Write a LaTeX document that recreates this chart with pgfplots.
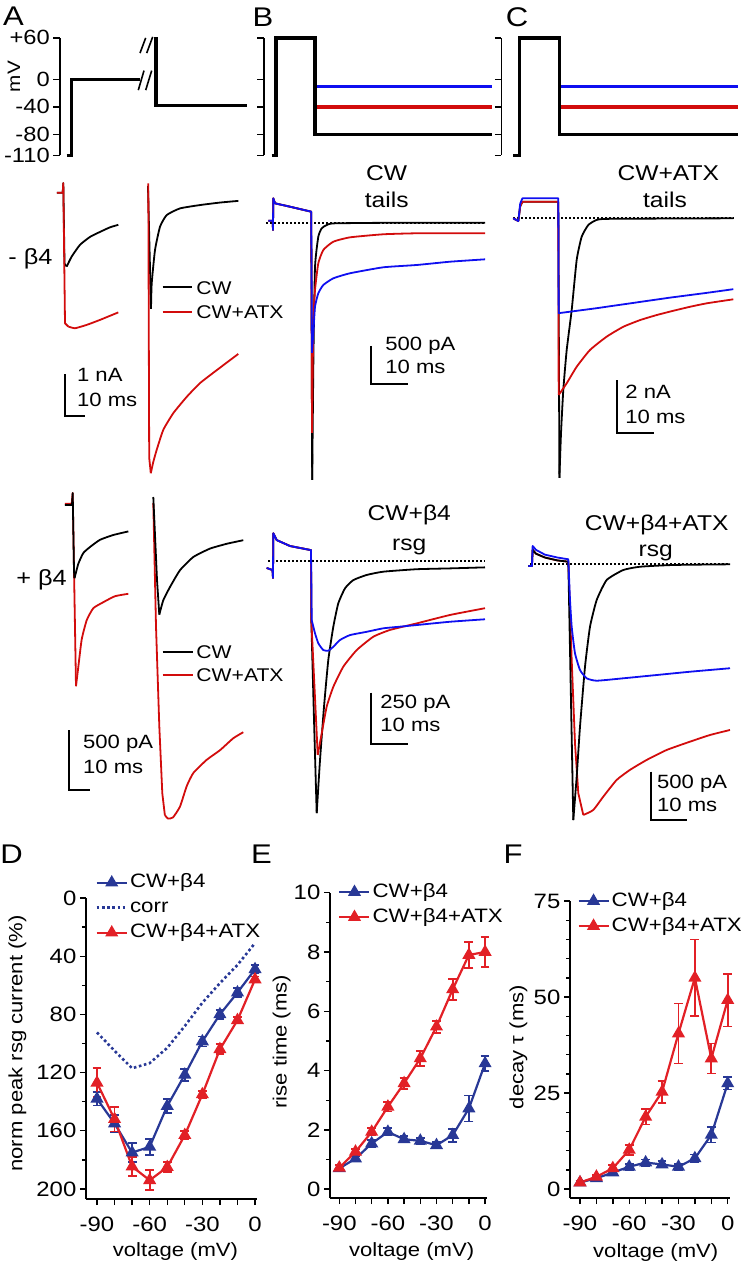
\documentclass[border=0pt]{standalone}
\usepackage{pgfplots}
\pgfplotsset{compat=1.18}
\usepackage{pgfplotstable}
\usepackage{fontspec}
\setmainfont{Liberation Sans}[FakeStretch=1.15]
\definecolor{dfblue}{RGB}{40,56,150}
\definecolor{dfred}{RGB}{226,32,38}
\definecolor{tblue}{RGB}{15,15,240}
\definecolor{tred}{RGB}{210,12,12}
\newcommand\fs[1]{\fontsize{#1}{#1}\selectfont}

\pgfplotstableread{
v m e
-90 138 4.6
-80 155 6
-70 175 6.5
-60 171 5.5
-50 143 4.6
-40 121.5 4.2
-30 98.6 3.4
-20 80 2.9
-10 65 3.2
0 49 2.8
}\Dblue
\pgfplotstableread{
v m e
-90 127 10
-80 152 8.5
-70 184.6 6.5
-60 194 6.9
-50 185 3.4
-40 163 2.9
-30 135 2.6
-20 104 3.4
-10 84 2.3
0 56 2
}\Dred
\pgfplotstableread{
v m
-90 92.4
-80 105
-70 117
-60 113.5
-50 103
-40 88
-30 72
-20 58.5
-10 46
0 31
}\Dcorr
\pgfplotstableread{
v m e
-90 0.70 0.1
-80 1.03 0.1
-70 1.54 0.12
-60 1.93 0.12
-50 1.68 0.1
-40 1.63 0.1
-30 1.48 0.1
-20 1.82 0.22
-10 2.72 0.44
0 4.24 0.25
}\Eblue
\pgfplotstableread{
v m e
-90 0.72 0.1
-80 1.26 0.1
-70 1.93 0.12
-60 2.78 0.16
-50 3.57 0.18
-40 4.41 0.25
-30 5.48 0.2
-20 6.74 0.36
-10 7.9 0.45
0 8.0 0.5
}\Ered
\pgfplotstableread{
v m e
-90 1.7 0.5
-80 2.8 0.5
-70 4.3 0.8
-60 5.8 0.8
-50 6.9 0.8
-40 6.4 0.8
-30 5.8 0.8
-20 8.0 1.0
-10 14.1 2.0
0 27.5 1.6
}\Fblue
\pgfplotstableread{
v m e
-90 1.7 0.5
-80 3.2 0.5
-70 5.4 0.9
-60 10.2 1.3
-50 18.8 2.0
-40 25.3 2.8
-30 40.5 7.8
-20 55 10
-10 34 3.9
0 49.2 6.9
}\Fred

\pgfplotsset{
 prot/.style={anchor=south west, x=0.5pt, y=0.345pt, xmin=0, ymin=-110, ymax=60,
   axis x line=none, axis y line*=left, clip=false, enlargelimits=false,
   ytick={-110,-80,-40,0,60}, tick align=outside, major tick length=3.3pt,
   axis line style={line width=0.6pt}, every tick/.style={black, line width=0.6pt},
   yticklabel style={font=\fs{10.3}, xshift=1.7pt}},
 trace/.style={anchor=south west, hide axis, clip=false, enlargelimits=false},
 tr0/.style={line width=0.9pt, line join=round},
 tr/.style={line width=0.9pt, line join=round, smooth, tension=0.3},
 sbar/.style={black, line width=1pt},
 pw/.style={line width=1.6pt},
 dfe/.style={anchor=south west, scale only axis, axis x line*=bottom, axis y line*=left,
   axis line style={line width=0.7pt}, every tick/.style={black, line width=0.7pt},
   tick align=outside, major tick length=3pt, minor tick length=2pt, clip=false,
   xtick={-90,-80,...,0}, xticklabels={-90,,,-60,,,-30,,,0},
   tick label style={font=\fs{10.4}}, yticklabel style={xshift=1.7pt}, xticklabel style={yshift=-2.5pt},
   xlabel={voltage (mV)}, label style={font=\fs{9.6}},
   xlabel style={anchor=center}, ylabel style={anchor=center},
   legend cell align=left,
   legend style={draw=none, fill=none, anchor=west, font=\fs{9.7}, inner sep=0pt, row sep=1.5pt,
     nodes={inner xsep=1pt, inner ysep=1pt, text height=7pt, text depth=2pt}},
   legend image code/.code={\draw[mark repeat=2,mark phase=2,##1] plot coordinates {(0pt,0pt) (7.5pt,0pt) (15pt,0pt)};}},
 pb/.style={dfblue, line width=1.1pt, mark=triangle*, mark size=2.7pt, mark options={solid, fill=dfblue},
   error bars/.cd, y dir=both, y explicit, error bar style={line width=0.9pt, solid},
   error mark options={rotate=90, dfblue, mark size=2.2pt, line width=0.9pt}},
 pr/.style={dfred, line width=1.1pt, mark=triangle*, mark size=2.7pt, mark options={solid, fill=dfred},
   error bars/.cd, y dir=both, y explicit, error bar style={line width=0.9pt, solid},
   error mark options={rotate=90, dfred, mark size=2.2pt, line width=0.9pt}},
}

\begin{document}
\begin{tikzpicture}
\useasboundingbox (0,0) rectangle (370pt,-632pt);

% ---------------- voltage protocols ----------------
\begin{axis}[prot, at={(30pt,-77.6pt)}, xmax=187, yticklabels={-110,-80,-40,0,+60},
  ylabel={mV}, ylabel style={font=\fs{9}, at={(axis description cs:-0.246,0.67)}, anchor=center}]
\addplot[black, pw] coordinates {(6.7,-110) (11.7,-110) (11.7,0) (80,0)};
\addplot[black, pw] coordinates {(96,61) (96,-38) (186.7,-38)};
\addplot[black, line width=0.8pt] coordinates {(78.3,-15.7) (84,12.6)};
\addplot[black, line width=0.8pt] coordinates {(85.7,-15.7) (91.7,12.6)};
\addplot[black, line width=0.8pt] coordinates {(80,38) (85.7,60)};
\addplot[black, line width=0.8pt] coordinates {(86.7,38) (92.7,61.5)};
\end{axis}

\begin{axis}[prot, at={(132pt,-77.6pt)}, xmax=228, yticklabels={,,,,,}]
\addplot[tblue, pw] coordinates {(51,-10) (228,-10)};
\addplot[tred, pw] coordinates {(51,-40) (228,-40)};
\addplot[black, pw] coordinates {(7.7,-110) (12,-110) (12,60) (51,60) (51,-80) (228,-80)};
\end{axis}

\begin{axis}[prot, at={(250.7pt,-77.6pt)}, xmax=237, yticklabels={,,,,,}]
\addplot[tblue, pw] coordinates {(58.4,-10) (236.3,-10)};
\addplot[tred, pw] coordinates {(58.4,-40) (236.3,-40)};
\addplot[black, pw] coordinates {(12,-110) (18,-110) (18,60) (58.4,60) (58.4,-80) (236.3,-80)};
\end{axis}

% ---------------- A, -beta4, left sweep (nA, ms) ----------------
\begin{axis}[trace, at={(26.65pt,-221.45pt)}, x=1pt, y=20.85pt, xmin=-5, xmax=30, ymin=-6, ymax=1]
\addplot[tr0, black] coordinates {(-3.2,0) (-0.3,0) (0,0.23) (0.6,-1.7) (1.7,-1.77)};
\addplot[tr, black] coordinates {(1.7,-1.77) (4.2,-1.53) (8.35,-1.25) (13.35,-1.06) (18.35,-0.94) (23.35,-0.83) (27.5,-0.77)};
\addplot[tr0, tred] coordinates {(-3.2,0) (-0.3,0) (0,0.23) (0.85,-3.13) (2.5,-3.21)};
\addplot[tr, tred] coordinates {(2.5,-3.21) (5.85,-3.25) (11.7,-3.17) (18.35,-3.05) (27.5,-2.87)};
\addplot[sbar] coordinates {(0.85,-4.35) (0.85,-5.35) (10.85,-5.35)};
\end{axis}

% ---------------- A, -beta4, right sweep ----------------
\begin{axis}[trace, at={(69pt,-260.15pt)}, x=1pt, y=20.85pt, xmin=-5, xmax=50, ymin=-8, ymax=1]
\addplot[tr0, black] coordinates {(-0.5,0) (0,0) (1.5,-2.93)};
\addplot[tr, black] coordinates {(1.5,-2.93) (1.85,-2.32) (3.5,-1.52) (6,-0.96) (9.35,-0.68) (16,-0.52) (26,-0.44) (36,-0.38) (45.15,-0.34)};
\addplot[tr0, tred] coordinates {(0.15,0.08) (0.6,-6.5) (1.4,-6.87)};
\addplot[tr, tred] coordinates {(1.4,-6.87) (2.65,-6.6) (4.35,-6.31) (7.65,-5.83) (12.65,-5.43) (19.35,-5.04) (26,-4.71) (34.35,-4.4) (45.15,-4.01)};
\addplot[black, line width=1pt] coordinates {(7.35,-2.40) (21.85,-2.40)};
\addplot[tred, line width=1pt] coordinates {(7.35,-3.0) (21.85,-3.0)};
\end{axis}

% ---------------- A, +beta4, left sweep ----------------
\begin{axis}[trace, at={(31.1pt,-432.5pt)}, x=1.05pt, y=60pt, xmin=-5, xmax=30, ymin=-3, ymax=0.5]
\addplot[tr0, tred] coordinates {(-3.67,0.01) (-0.48,0.01) (0,0.1) (1.57,-1.51)};
\addplot[tr, tred] coordinates {(1.57,-1.51) (2.67,-1.35) (4.29,-1.12) (6.67,-0.96) (9.81,-0.86) (14.57,-0.81) (20.14,-0.76) (26.48,-0.74)};
\addplot[tr0, black] coordinates {(-3.7,0) (-0.33,0) (0,0.1) (0.62,-0.55) (0.86,-0.61)};
\addplot[tr, black] coordinates {(0.86,-0.61) (2.67,-0.49) (5.05,-0.40) (8.24,-0.35) (13,-0.29) (19.33,-0.25) (26.5,-0.22)};
\addplot[sbar] coordinates {(-1.76,-1.875) (-1.76,-2.375) (8.24,-2.375)};
\end{axis}

% ---------------- A, +beta4, right sweep ----------------
\begin{axis}[trace, at={(71.4pt,-431.5pt)}, x=1.05pt, y=60pt, xmin=-5, xmax=45, ymin=-3, ymax=0.5]
\addplot[tr0, tred] coordinates {(0,0) (1.29,-1.03) (2.86,-1.86) (4.29,-2.42) (5.5,-2.6)};
\addplot[tr, tred] coordinates {(5.5,-2.6) (7,-2.63) (9.38,-2.62) (12.71,-2.53) (15.9,-2.36) (19.05,-2.25) (25.43,-2.14) (31.76,-2.06) (38.1,-1.96) (42.86,-1.91)};
\addplot[tr0, black] coordinates {(0,0.05) (1.76,-0.64) (2.86,-0.93)};
\addplot[tr, black] coordinates {(2.86,-0.93) (4.76,-0.81) (7.95,-0.70) (12.71,-0.56) (19.05,-0.45) (27,-0.38) (34.95,-0.34) (42.86,-0.31)};
\addplot[black, line width=1pt] coordinates {(4.48,-1.24) (18.76,-1.24)};
\addplot[tred, line width=1pt] coordinates {(4.48,-1.43) (18.76,-1.43)};
\end{axis}

% ---------------- B, CW tails (pA) ----------------
\begin{axis}[trace, at={(127.575pt,-264.55pt)}, x=1.885pt, y=0.0383pt, xmin=-15, xmax=50, ymin=-4000, ymax=1000]
\addplot[black, line width=0.9pt, dash pattern=on 1pt off 1pt] coordinates {(-12,0) (46,0)};
\addplot[tr0, black] coordinates {(-11.5,26) (-10.35,26) (-10.27,-95) (-10.19,318) (-9.73,253) (-5.76,209) (-0.13,144) (0.13,-3358)};
\addplot[tr, black] coordinates {(0.13,-3358) (0.48,-1661) (0.88,-574) (1.75,-183) (2.65,-73) (3.98,-30) (6.18,-8) (23.4,0) (46,0)};
\addplot[tr0, tred] coordinates {(-11.5,26) (-10.35,26) (-10.27,-95) (-10.19,318) (-9.73,253) (-5.76,209) (-0.13,144) (0.08,-2744)};
\addplot[tr, tred] coordinates {(0.08,-2744) (0.42,-1313) (0.88,-878) (1.75,-530) (3.08,-356) (5.73,-248) (10.16,-191) (19,-151) (27.85,-138) (36.7,-138) (46,-138)};
\addplot[tr0, tblue] coordinates {(-11.5,26) (-10.35,26) (-10.27,-95) (-10.19,318) (-9.73,253) (-5.76,209) (-0.13,144) (0.08,-1700)};
\addplot[tr, tblue] coordinates {(0.08,-1700) (0.48,-1400) (0.88,-1096) (1.75,-921) (3.08,-813) (5.73,-726) (10.16,-660) (19,-582) (27.85,-552) (36.7,-509) (46,-478)};
\addplot[sbar] coordinates {(15.65,-1609) (15.65,-2109) (25.65,-2109)};
\end{axis}

% ---------------- C, CW+ATX tails (nA) ----------------
\begin{axis}[trace, at={(251.4pt,-269.05pt)}, x=1.85pt, y=13.325pt, xmin=-15, xmax=50, ymin=-12, ymax=2]
\addplot[black, line width=0.9pt, dash pattern=on 1pt off 1pt] coordinates {(-12.2,0) (47.3,0)};
\addplot[tr0, black] coordinates {(-12.2,0) (-10.8,-0.1) (-10.3,0.45) (-9.7,0.62) (0,0.62) (0.3,-9.74)};
\addplot[tr, black] coordinates {(0.3,-9.74) (0.73,-8.07) (1.35,-6.44) (2.27,-4.94) (3.62,-3.44) (4.97,-1.56) (6.32,-0.69) (8.11,-0.25) (10.38,-0.06) (13.97,-0.02) (47.3,0)};
\addplot[tr0, tred] coordinates {(-12.2,0) (-10.8,-0.1) (-10.3,0.45) (-9.7,0.62) (0,0.62) (0.1,-6.63)};
\addplot[tr, tred] coordinates {(0.1,-6.63) (2.27,-6.19) (4.97,-5.57) (8.57,-4.94) (13.08,-4.44) (17.57,-4.07) (22.08,-3.82) (26.59,-3.63) (31.08,-3.47) (35.59,-3.32) (40.11,-3.19) (47.3,-3.04)};
\addplot[tr0, tblue] coordinates {(-12.2,0) (-10.8,-0.1) (-10.3,0.55) (-9.7,0.75) (0,0.75) (0.1,-3.56) (10,-3.38) (20,-3.18) (30,-2.98) (40,-2.8) (47.3,-2.66)};
\addplot[sbar] coordinates {(15.95,-6.07) (15.95,-8.07) (25.95,-8.07)};
\end{axis}

% ---------------- B, CW+b4 rsg (pA) ----------------
\begin{axis}[trace, at={(127.225pt,-434.4pt)}, x=1.885pt, y=0.1026pt, xmin=-15, xmax=50, ymin=-1500, ymax=300]
\addplot[black, line width=0.9pt, dash pattern=on 1pt off 1pt] coordinates {(-11.3,0) (46.15,0)};
\addplot[tr0, black] coordinates {(-11.75,-34) (-10.21,-44) (-10.08,-83) (-10,135) (-9.1,102) (-5.57,73) (-0.27,54) (0,54) (0.08,-288) (0.8,-775) (1.51,-1229)};
\addplot[tr, black] coordinates {(1.51,-1229) (2.39,-970) (3.45,-710) (4.59,-482) (5.92,-320) (7.24,-206) (9.02,-133) (11.22,-93) (14.77,-68) (19.18,-52) (28.04,-40) (36.87,-36) (46.15,-31)};
\addplot[tr0, tred] coordinates {(-11.75,-34) (-10.21,-44) (-10.08,-83) (-10,135) (-9.1,102) (-5.57,73) (-0.27,54) (0,54) (0.08,-288) (1.78,-945)};
\addplot[tr, tred] coordinates {(1.78,-945) (2.84,-840) (4.16,-710) (5.92,-613) (8.57,-515) (12.12,-434) (16.53,-369) (20.95,-336) (28.04,-304) (36.87,-263) (46.15,-230)};
\addplot[tr0, tblue] coordinates {(-11.75,-34) (-10.21,-44) (-10.08,-83) (-10,135) (-9.1,102) (-5.57,73) (-0.27,54) (0,54) (0.19,-288)};
\addplot[tr, tblue] coordinates {(0.19,-288) (1.06,-352) (1.94,-401) (3.26,-434) (4.59,-437) (5.92,-418) (7.69,-385) (10.34,-361) (14.77,-345) (19.18,-328) (23.61,-320) (28.04,-312) (36.87,-296) (46.15,-284)};
\addplot[sbar] coordinates {(15.84,-642) (15.84,-892) (25.84,-892)};
\end{axis}

% ---------------- C, CW+b4+ATX rsg (pA) ----------------
\begin{axis}[trace, at={(257.15pt,-427.05pt)}, x=1.8pt, y=0.0483pt, xmin=-15, xmax=50, ymin=-3000, ymax=500]
\addplot[black, line width=0.9pt, dash pattern=on 1pt off 1pt] coordinates {(-10.6,0) (44.92,0)};
\addplot[tr0, tred] coordinates {(-11.1,-18) (-10.1,-18) (-9.9,150) (-9,110) (-6.5,70) (-3,40) (0,27) (0.94,-990) (1.86,-1853) (2.78,-2370) (4.17,-2595)};
\addplot[tr, tred] coordinates {(4.17,-2595) (6.94,-2543) (9.72,-2405) (13.44,-2232) (17.14,-2128) (21.78,-2025) (27.33,-1922) (33.81,-1836) (39.36,-1767) (44.92,-1715)};
\addplot[tr0, black] coordinates {(-11.1,-18) (-10.1,-18) (-9.9,150) (-9,110) (-6.5,70) (-3,40) (0,27) (1.39,-2647)};
\addplot[tr, black] coordinates {(1.39,-2647) (2.33,-2198) (3.25,-1681) (4.64,-1060) (6.03,-646) (7.89,-369) (10.67,-162) (15.28,-59) (19.92,-25) (29.17,-7) (44.92,0)};
\addplot[tr0, tblue] coordinates {(-11.1,-18) (-10.1,-18) (-9.9,190) (-9,150) (-6.5,100) (-3,70) (0,52) (0.47,-369)};
\addplot[tr, tblue] coordinates {(0.47,-369) (0.94,-646) (1.86,-921) (3.25,-1094) (5.11,-1180) (7.89,-1205) (15.28,-1180) (24.56,-1146) (33.81,-1112) (44.92,-1076)};
\addplot[sbar] coordinates {(22.97,-2147) (22.97,-2646) (32.97,-2646)};
\end{axis}

% ---------------- D ----------------
\begin{axis}[dfe, at={(43pt,-599.5pt)}, width=85.4pt, height=150.5pt,
  xmin=-96.26, xmax=1, ymin=-206.9, ymax=0, y filter/.expression={-y},
  ytick={-200,-160,...,0}, yticklabels={200,160,120,80,40,0}, minor ytick={-180,-140,...,-20},
  ylabel={norm peak rsg current (\%)}, ylabel style={at={(axis description cs:-0.401,0.517)}},
  xlabel style={at={(axis description cs:0.524,-0.175)}},
  legend style={at={(0.053,0.968)}}]
\addplot[pb] table[x=v, y=m, y error=e]{\Dblue};
\addlegendentry{CW+β4}
\addplot[dfblue, line width=1.3pt, dash pattern=on 1.3pt off 1.3pt] table[x=v, y=m]{\Dcorr};
\addlegendentry{corr}
\addplot[pr] table[x=v, y=m, y error=e]{\Dred};
\addlegendentry{CW+β4+ATX}
\end{axis}

% ---------------- E ----------------
\begin{axis}[dfe, at={(165pt,-599pt)}, width=78.35pt, height=152.65pt,
  xmin=-95.74, xmax=1, ymin=-0.30, ymax=10,
  ytick={0,2,...,10}, yticklabels={0,2,4,6,8,10}, minor ytick={1,3,...,9},
  ylabel={rise time (ms)}, ylabel style={at={(axis description cs:-0.308,0.512)}},
  xlabel style={at={(axis description cs:0.521,-0.176)}},
  legend style={at={(0.051,0.961)}}]
\addplot[pb] table[x=v, y=m, y error=e]{\Eblue};
\addlegendentry{CW+β4}
\addplot[pr] table[x=v, y=m, y error=e]{\Ered};
\addlegendentry{CW+β4+ATX}
\end{axis}

% ---------------- F ----------------
\begin{axis}[dfe, at={(285pt,-599pt)}, width=80pt, height=148.5pt,
  xmin=-96.09, xmax=1.4, ymin=-2.34, ymax=75,
  ytick={0,25,50,75}, yticklabels={0,25,50,75}, minor ytick={5,10,15,20,30,35,40,45,55,60,65,70},
  ylabel={decay τ (ms)}, ylabel style={at={(axis description cs:-0.322,0.508)}},
  xlabel style={at={(axis description cs:0.536,-0.182)}},
  legend style={at={(0.044,0.958)}}]
\addplot[pb] table[x=v, y=m, y error=e]{\Fblue};
\addlegendentry{CW+β4}
\addplot[pr] table[x=v, y=m, y error=e]{\Fred};
\addlegendentry{CW+β4+ATX}
\end{axis}

% ---------------- text annotations ----------------
\begin{scope}[every node/.style={inner sep=0pt}]
\node[font=\fs{13.5}] at (6.75pt,-8.25pt) {A};
\node[font=\fs{13.5}] at (131.5pt,-8.75pt) {B};
\node[font=\fs{13.5}] at (258.5pt,-8.75pt) {C};
\node[font=\fs{13.5}] at (5.75pt,-427pt) {D};
\node[font=\fs{13.5}] at (130.75pt,-427pt) {E};
\node[font=\fs{13.5}] at (256.5pt,-427pt) {F};

\node[font=\fs{11}, anchor=base] at (15.25pt,-132.1pt) {- β4};
\node[font=\fs{11}, anchor=base] at (20.75pt,-292.9pt) {+ β4};

\node[font=\fs{10.7}, anchor=base] at (193.35pt,-90.4pt) {CW};
\node[font=\fs{10.7}, anchor=base] at (193.35pt,-103.85pt) {tails};
\node[font=\fs{10.7}, anchor=base] at (334.15pt,-90pt) {CW+ATX};
\node[font=\fs{10.7}, anchor=base] at (332.5pt,-103.65pt) {tails};
\node[font=\fs{10.7}, anchor=base] at (204.65pt,-260pt) {CW+β4};
\node[font=\fs{10.7}, anchor=base] at (204.65pt,-275pt) {rsg};
\node[font=\fs{10.7}, anchor=base] at (328.35pt,-265pt) {CW+β4+ATX};
\node[font=\fs{10.7}, anchor=base] at (327.9pt,-278.35pt) {rsg};

\node[font=\fs{9.6}, anchor=base west] at (38.35pt,-190.85pt) {1 nA};
\node[font=\fs{9.6}, anchor=base west] at (38.35pt,-203.35pt) {10 ms};
\node[font=\fs{9.6}, anchor=base west] at (41.35pt,-374.15pt) {500 pA};
\node[font=\fs{9.6}, anchor=base west] at (41.35pt,-386.65pt) {10 ms};
\node[font=\fs{9.6}, anchor=base west] at (192.5pt,-175pt) {500 pA};
\node[font=\fs{9.6}, anchor=base west] at (192.5pt,-186.65pt) {10 ms};
\node[font=\fs{9.6}, anchor=base west] at (312.5pt,-199.15pt) {2 nA};
\node[font=\fs{9.6}, anchor=base west] at (312.5pt,-211.65pt) {10 ms};
\node[font=\fs{9.6}, anchor=base west] at (190pt,-354.15pt) {250 pA};
\node[font=\fs{9.6}, anchor=base west] at (190pt,-365.85pt) {10 ms};
\node[font=\fs{9.6}, anchor=base west] at (328.35pt,-394.15pt) {500 pA};
\node[font=\fs{9.6}, anchor=base west] at (328.35pt,-405.85pt) {10 ms};

\node[font=\fs{9.2}, anchor=base west] at (98pt,-147pt) {CW};
\node[font=\fs{9.2}, anchor=base west] at (98pt,-159.15pt) {CW+ATX};
\node[font=\fs{9.2}, anchor=base west] at (98pt,-329.15pt) {CW};
\node[font=\fs{9.2}, anchor=base west] at (98pt,-340.85pt) {CW+ATX};
\end{scope}
\end{tikzpicture}
\end{document}
